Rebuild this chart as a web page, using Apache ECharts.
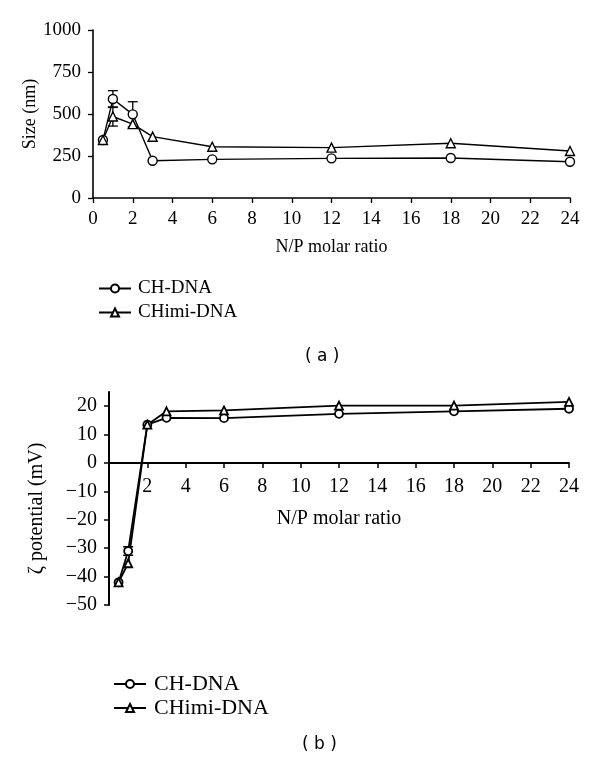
<!DOCTYPE html>
<html>
<head>
<meta charset="utf-8">
<script src="https://cdn.jsdelivr.net/npm/echarts@6/dist/echarts.min.js"></script>
<style>
html,body{margin:0;padding:0;background:#fff;}
#chart{width:600px;height:767px;}
</style>
</head>
<body>
<div id="chart"></div>
<script>
// ---- data ----
var npRatio = [0.5, 1, 2, 3, 6, 12, 18, 24];
var sizeCH = [345, 589, 498, 222, 230, 236, 238, 216];
var sizeCHErr = [0, 50, 75, 0, 0, 0, 0, 0];
var sizeCHimi = [345, 485, 440, 365, 305, 300, 326, 280];
var sizeCHimiErr = [0, 57, 0, 0, 0, 0, 0, 0];
var zetaCH = [-42, -31, 13.5, 15.9, 15.8, 17.3, 18.2, 19.1];
var zetaCHErr = [0, 1.5, 0, 0, 0, 0, 0, 0];
var zetaCHimi = [-42, -35.3, 13.5, 18.2, 18.5, 20.2, 20.2, 21.5];
var sizeTicks = [0, 250, 500, 750, 1000];
var zetaTicks = [-50, -40, -30, -20, -10, 0, 10, 20];
var zetaRange = [-50, 25];
var seriesNames = ['CH-DNA', 'CHimi-DNA'];

var SERIF = 'Liberation Serif';

function pairs(xs, ys) { return xs.map(function (x, i) { return [x, ys[i]]; }); }
function errData(xs, ys, es) {
  var out = [];
  xs.forEach(function (x, i) { if (es[i] > 0) out.push([x, ys[i], es[i]]); });
  return out;
}
function errSeries(data, xi, yi, capW, lw) {
  return {
    type: 'custom', xAxisIndex: xi, yAxisIndex: yi, z: 1, silent: true,
    data: data,
    renderItem: function (params, api) {
      var x = api.value(0), y = api.value(1), e = api.value(2);
      var t = api.coord([x, y + e]), b = api.coord([x, y - e]);
      var st = { stroke: '#000', lineWidth: lw };
      return { type: 'group', children: [
        { type: 'line', shape: { x1: t[0], y1: t[1], x2: b[0], y2: b[1] }, style: st },
        { type: 'line', shape: { x1: t[0] - capW, y1: t[1], x2: t[0] + capW, y2: t[1] }, style: st },
        { type: 'line', shape: { x1: b[0] - capW, y1: b[1], x2: b[0] + capW, y2: b[1] }, style: st }
      ]};
    }
  };
}
function lineSeries(name, data, symbol, size, xi, yi, lw) {
  return {
    name: name, type: 'line', xAxisIndex: xi, yAxisIndex: yi, z: 3,
    data: data, symbol: symbol, symbolSize: size, showAllSymbol: true,
    lineStyle: { color: '#000', width: lw },
    itemStyle: { color: '#fff', borderColor: '#000', borderWidth: lw },
    emphasis: { disabled: true }, animation: false
  };
}

var grid2Top = 392, grid2Height = 213;
// offset of the bottom x axis so that it sits on the zero line (derived from the y range)
var zeroOffset = -grid2Height * (0 - zetaRange[0]) / (zetaRange[1] - zetaRange[0]);

var option = {
  backgroundColor: '#fff',
  animation: false,
  grid: [
    { left: 93, right: 30, top: 30, height: 168, outerBoundsMode: 'none', containLabel: false },
    { left: 109, right: 31, top: grid2Top, height: grid2Height, outerBoundsMode: 'none', containLabel: false }
  ],
  xAxis: [
    {
      type: 'value', gridIndex: 0, min: 0, max: 24, interval: 2,
      name: 'N/P molar ratio', nameLocation: 'middle', nameGap: 40, nameMoveOverlap: false,
      nameTextStyle: { fontFamily: SERIF, fontSize: 18, color: '#000' },
      axisLine: { lineStyle: { color: '#000', width: 1.6 } },
      axisTick: { show: true, length: 5, lineStyle: { color: '#000', width: 1.3 } },
      axisLabel: { fontFamily: SERIF, fontSize: 19, color: '#000', margin: 12 },
      splitLine: { show: false }
    },
    {
      type: 'value', gridIndex: 1, min: 0, max: 24, interval: 2, position: 'bottom', offset: zeroOffset,
      name: 'N/P molar ratio', nameLocation: 'middle', nameGap: 46, nameMoveOverlap: false,
      nameTextStyle: { fontFamily: SERIF, fontSize: 20, color: '#000' },
      axisLine: { onZero: false, lineStyle: { color: '#000', width: 2 } },
      axisTick: { show: true, length: 5, lineStyle: { color: '#000', width: 1.5 } },
      axisLabel: { fontFamily: SERIF, fontSize: 20, color: '#000', margin: 14, showMinLabel: false },
      splitLine: { show: false }
    }
  ],
  yAxis: [
    {
      type: 'value', gridIndex: 0, min: 0, max: 1000, interval: 250,
      name: 'Size (nm)', nameLocation: 'middle', nameGap: 54, nameMoveOverlap: false,
      nameTextStyle: { fontFamily: SERIF, fontSize: 18, color: '#000' },
      axisLine: { show: true, lineStyle: { color: '#000', width: 1.6 } },
      axisTick: { show: true, length: 5, lineStyle: { color: '#000', width: 1.3 } },
      axisLabel: { fontFamily: SERIF, fontSize: 19, color: '#000', margin: 12,
        customValues: sizeTicks, formatter: function (v) { return String(v); } },
      splitLine: { show: false }
    },
    {
      type: 'value', gridIndex: 1, min: zetaRange[0], max: zetaRange[1], interval: 10,
      name: 'ζ potential (mV)', nameLocation: 'middle', nameGap: 62, nameMoveOverlap: false,
      nameTextStyle: { fontFamily: SERIF, fontSize: 20, color: '#000', padding: [0, 20, 0, 0] },
      axisLine: { show: true, onZero: false, lineStyle: { color: '#000', width: 2 } },
      axisTick: { show: true, length: 5, lineStyle: { color: '#000', width: 1.5 }, customValues: zetaTicks },
      axisLabel: { fontFamily: SERIF, fontSize: 20, color: '#000', margin: 12,
        customValues: zetaTicks,
        formatter: function (v) { return v < 0 ? '\u2212' + Math.abs(v) : String(v); } },
      splitLine: { show: false }
    }
  ],
  legend: [
    {
      left: 93, top: 274, orient: 'vertical', itemGap: 5, itemWidth: 32, itemHeight: 10,
      data: seriesNames, selectedMode: false,
      textStyle: { fontFamily: SERIF, fontSize: 19, color: '#000', padding: [0, 0, 0, 2] }
    },
    {
      left: 108, top: 668, orient: 'vertical', itemGap: 2, itemWidth: 32, itemHeight: 10,
      data: seriesNames, selectedMode: false,
      textStyle: { fontFamily: SERIF, fontSize: 22, color: '#000', padding: [0, 0, 0, 3] }
    }
  ],
  graphic: [
    { type: 'text', left: 305, top: 348, style: { text: '( a )', fontFamily: 'DejaVu Sans', fontSize: 17, fill: '#000' } },
    { type: 'text', left: 302, top: 736, style: { text: '( b )', fontFamily: 'DejaVu Sans', fontSize: 17, fill: '#000' } }
  ],
  series: [
    errSeries(errData(npRatio, sizeCH, sizeCHErr), 0, 0, 5, 1.3),
    errSeries(errData(npRatio, sizeCHimi, sizeCHimiErr), 0, 0, 5, 1.3),
    lineSeries(seriesNames[0], pairs(npRatio, sizeCH), 'circle', 9, 0, 0, 1.4),
    lineSeries(seriesNames[1], pairs(npRatio, sizeCHimi), 'triangle', 9, 0, 0, 1.4),
    errSeries(errData(npRatio, zetaCH, zetaCHErr), 1, 1, 5, 1.5),
    lineSeries(seriesNames[0], pairs(npRatio, zetaCH), 'circle', 8, 1, 1, 1.8),
    lineSeries(seriesNames[1], pairs(npRatio, zetaCHimi), 'triangle', 8, 1, 1, 1.8)
  ]
};

var chart = echarts.init(document.getElementById('chart'), null, { renderer: 'canvas' });
chart.setOption(option);
</script>
</body>
</html>
